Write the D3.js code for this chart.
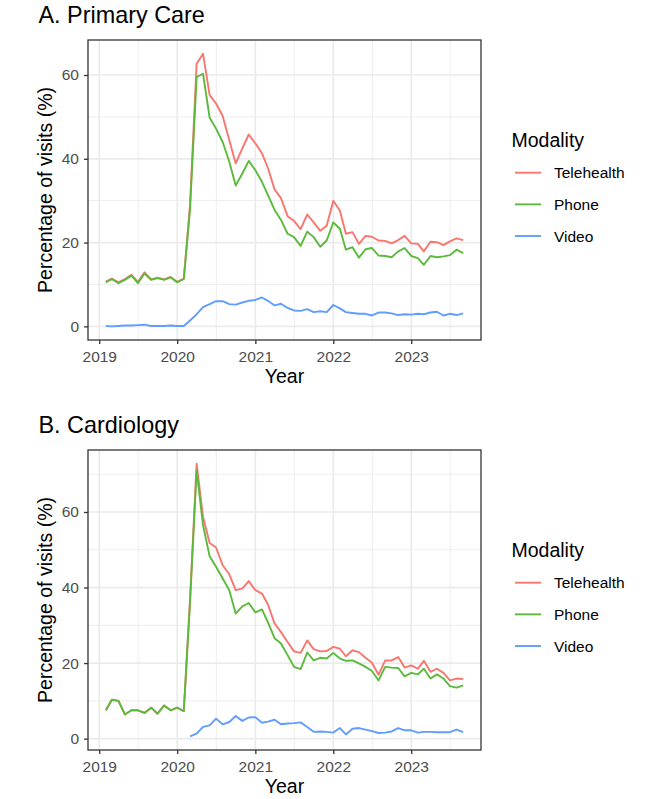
<!DOCTYPE html>
<html>
<head>
<meta charset="utf-8">
<script src="https://cdn.jsdelivr.net/npm/d3@7"></script>
<style>
  body { margin: 0; background: #ffffff; }
  svg { display: block; font-family: "Liberation Sans", Arial, Helvetica, sans-serif; }
</style>
</head>
<body>
<svg id="chart" width="666" height="799"></svg>
<script>
// ---------------- DATA ----------------
const months = [
  "2019-02","2019-03","2019-04","2019-05","2019-06","2019-07","2019-08","2019-09","2019-10","2019-11","2019-12",
  "2020-01","2020-02","2020-03","2020-04","2020-05","2020-06","2020-07","2020-08","2020-09","2020-10","2020-11","2020-12",
  "2021-01","2021-02","2021-03","2021-04","2021-05","2021-06","2021-07","2021-08","2021-09","2021-10","2021-11","2021-12",
  "2022-01","2022-02","2022-03","2022-04","2022-05","2022-06","2022-07","2022-08","2022-09","2022-10","2022-11","2022-12",
  "2023-01","2023-02","2023-03","2023-04","2023-05","2023-06","2023-07","2023-08","2023-09"
];

const seriesNames  = ["Telehealth", "Phone", "Video"];
const seriesColors = ["#F8766D", "#5BBA3C", "#619CFF"];

const panelTitles = ["A. Primary Care", "B. Cardiology"];
const xTickLabels = ["2019", "2020", "2021", "2022", "2023"];
const yTickValues = [0, 20, 40, 60];
const xAxisTitle = "Year";
const yAxisTitle = "Percentage of visits (%)";
const legendTitle = "Modality";

// Primary care
const pcTelehealth = [
  10.7, 11.4, 10.5, 11.3, 12.3, 10.6, 12.9, 11.2, 11.6, 11.2, 11.8,
  10.6, 11.4, 29.0, 62.7, 65.1, 55.2, 53.2, 50.2, 44.4, 38.9, 42.5, 45.8,
  43.7, 41.3, 37.8, 32.7, 30.6, 26.3, 25.2, 23.2, 26.7, 24.8, 22.8, 24.0,
  30.0, 27.6, 22.1, 22.5, 19.7, 21.6, 21.4, 20.5, 20.4, 19.8, 20.6, 21.6,
  19.8, 19.7, 17.9, 20.2, 20.1, 19.4, 20.3, 21.0, 20.6
];
const pcPhone = [
  10.5, 11.3, 10.3, 11.1, 12.1, 10.3, 12.6, 11.1, 11.5, 11.1, 11.7,
  10.5, 11.3, 27.8, 59.5, 60.3, 49.8, 47.2, 44.0, 39.3, 33.6, 36.5, 39.5,
  37.3, 34.5, 31.3, 27.8, 25.4, 22.1, 21.3, 19.2, 22.6, 21.3, 19.0, 20.5,
  24.8, 23.3, 18.3, 18.9, 16.4, 18.4, 18.7, 16.9, 16.8, 16.5, 17.9, 18.7,
  16.8, 16.3, 14.7, 16.8, 16.5, 16.7, 17.0, 18.3, 17.5
];
const pcVideo = [
  0.1, 0.0, 0.1, 0.2, 0.2, 0.3, 0.4, 0.1, 0.1, 0.1, 0.2,
  0.1, 0.1, 1.4, 2.9, 4.6, 5.3, 6.0, 6.0, 5.3, 5.2, 5.7, 6.1,
  6.3, 6.9, 6.1, 5.0, 5.4, 4.4, 3.8, 3.7, 4.1, 3.4, 3.6, 3.4,
  5.1, 4.3, 3.4, 3.2, 3.0, 3.0, 2.6, 3.3, 3.3, 3.1, 2.7, 2.9,
  2.8, 3.0, 2.9, 3.3, 3.5, 2.6, 3.0, 2.7, 3.1
];

// Cardiology
const cardTelehealth = [
  7.5, 10.3, 10.0, 6.4, 7.5, 7.5, 6.8, 8.2, 6.6, 8.8, 7.5,
  8.2, 7.3, 36.6, 72.8, 58.7, 51.8, 50.6, 45.9, 43.5, 39.3, 39.7, 41.7,
  39.3, 38.4, 35.5, 30.5, 28.2, 25.6, 23.1, 22.7, 26.0, 23.7, 23.1, 23.2,
  24.3, 23.8, 21.8, 23.4, 22.9, 21.4, 20.1, 16.9, 20.7, 20.7, 21.6, 18.8,
  19.4, 18.5, 20.6, 17.7, 18.5, 17.4, 15.4, 15.9, 15.8
];
const cardPhone = [
  7.5, 10.3, 10.0, 6.4, 7.5, 7.5, 6.8, 8.2, 6.6, 8.8, 7.5,
  8.2, 7.3, 36.0, 71.0, 56.5, 48.3, 45.5, 42.4, 39.3, 33.1, 35.0, 35.9,
  33.4, 34.2, 30.8, 26.6, 25.2, 22.1, 19.0, 18.4, 22.8, 20.7, 21.4, 21.2,
  22.7, 21.2, 20.6, 20.7, 19.9, 19.0, 17.9, 15.4, 19.0, 18.8, 18.7, 16.5,
  17.4, 17.0, 18.5, 15.9, 17.0, 15.9, 13.9, 13.5, 14.1
];
const cardVideo = [
  null, null, null, null, null, null, null, null, null, null, null,
  null, null, 0.6, 1.3, 3.1, 3.5, 5.3, 3.8, 4.4, 6.0, 4.7, 5.6,
  5.7, 4.2, 4.5, 5.0, 3.8, 4.0, 4.1, 4.3, 3.1, 1.8, 1.9, 1.8,
  1.6, 2.8, 1.1, 2.6, 2.8, 2.4, 2.0, 1.5, 1.6, 1.9, 2.8, 2.2,
  2.2, 1.6, 1.8, 1.8, 1.7, 1.7, 1.7, 2.4, 1.7
];

// ---------------- DRAWING ----------------
const svg = d3.select("#chart");
const parseMonth = d3.utcParse("%Y-%m");
const dates = months.map(parseMonth);
const yearDates = xTickLabels.map(y => d3.utcParse("%Y")(y));

const panelLeft = 88, panelRight = 481, panelTopRel = 40, panelBottomRel = 340;
const tickCol = "#4D4D4D", borderCol = "#333333", gridCol = "#EBEBEB";

function expand(lo, hi, f) { const r = hi - lo; return [lo - r * f, hi + r * f]; }

function drawPanel(offsetY, title, seriesValues) {
  const g = svg.append("g");

  const [t0, t1] = d3.extent(dates, d => +d);
  const [xd0, xd1] = expand(t0, t1, 0.05);
  const x = d3.scaleUtc().domain([new Date(xd0), new Date(xd1)]).range([panelLeft, panelRight]);

  const allVals = seriesValues.flat().filter(v => v != null);
  const y = d3.scaleLinear()
    .domain(expand(d3.min(allVals), d3.max(allVals), 0.05))
    .range([offsetY + panelBottomRel, offsetY + panelTopRel]);

  const top = offsetY + panelTopRel, bottom = offsetY + panelBottomRel;

  // minor grid
  const yMinor = d3.range(10, 100, 20).filter(v => v > y.domain()[0] && v < y.domain()[1]);
  const xMinor = [];
  for (let i = 0; i < yearDates.length; i++) {
    const a = +yearDates[i];
    const b = +d3.utcYear.offset(yearDates[i], 1);
    const mid = new Date((a + b) / 2);
    if (mid > x.domain()[0] && mid < x.domain()[1]) xMinor.push(mid);
  }
  g.selectAll(".ymin").data(yMinor).join("line")
    .attr("x1", panelLeft).attr("x2", panelRight)
    .attr("y1", d => y(d)).attr("y2", d => y(d))
    .attr("stroke", gridCol).attr("stroke-width", 0.9);
  g.selectAll(".xmin").data(xMinor).join("line")
    .attr("y1", top).attr("y2", bottom)
    .attr("x1", d => x(d)).attr("x2", d => x(d))
    .attr("stroke", gridCol).attr("stroke-width", 0.9);

  // major grid
  g.selectAll(".ymaj").data(yTickValues.filter(v => v <= y.domain()[1])).join("line")
    .attr("x1", panelLeft).attr("x2", panelRight)
    .attr("y1", d => y(d)).attr("y2", d => y(d))
    .attr("stroke", gridCol).attr("stroke-width", 1.7);
  g.selectAll(".xmaj").data(yearDates).join("line")
    .attr("y1", top).attr("y2", bottom)
    .attr("x1", d => x(d)).attr("x2", d => x(d))
    .attr("stroke", gridCol).attr("stroke-width", 1.7);

  // lines
  const line = d3.line()
    .defined(d => d.v != null)
    .x(d => x(d.t)).y(d => y(d.v));
  seriesValues.forEach((vals, i) => {
    const pts = vals.map((v, j) => ({ t: dates[j], v }));
    g.append("path").attr("d", line(pts))
      .attr("fill", "none").attr("stroke", seriesColors[i])
      .attr("stroke-width", 1.9).attr("stroke-linejoin", "round");
  });

  // border
  g.append("rect").attr("x", panelLeft).attr("y", top)
    .attr("width", panelRight - panelLeft).attr("height", bottom - top)
    .attr("fill", "none").attr("stroke", borderCol).attr("stroke-width", 1.3);

  // axes
  const yAxis = d3.axisLeft(y).tickValues(yTickValues.filter(v => v <= y.domain()[1]))
    .tickSize(4).tickPadding(5).tickFormat(d3.format("d"));
  const ya = g.append("g").attr("transform", `translate(${panelLeft},0)`).call(yAxis);
  ya.select(".domain").remove();
  ya.selectAll(".tick line").attr("stroke", borderCol).attr("stroke-width", 1.3);
  ya.selectAll(".tick text").attr("fill", tickCol).style("font-size", "15.5px")
    .style("font-family", "'Liberation Sans', Arial, sans-serif");

  const xAxis = d3.axisBottom(x).tickValues(yearDates).tickSize(4).tickPadding(6.5)
    .tickFormat((d, i) => xTickLabels[i]);
  const xa = g.append("g").attr("transform", `translate(0,${bottom})`).call(xAxis);
  xa.select(".domain").remove();
  xa.selectAll(".tick line").attr("stroke", borderCol).attr("stroke-width", 1.3);
  xa.selectAll(".tick text").attr("fill", tickCol).style("font-size", "15.5px")
    .style("font-family", "'Liberation Sans', Arial, sans-serif");

  // titles
  g.append("text").attr("x", (panelLeft + panelRight) / 2).attr("y", offsetY + 383)
    .attr("text-anchor", "middle").style("font-size", "19.5px").attr("fill", "#000")
    .text(xAxisTitle);
  g.append("text")
    .attr("transform", `translate(52,${(top + bottom) / 2}) rotate(-90)`)
    .attr("text-anchor", "middle").style("font-size", "19.5px").attr("fill", "#000")
    .text(yAxisTitle);
  g.append("text").attr("x", 38.5).attr("y", offsetY + 23)
    .style("font-size", "23.4px").attr("fill", "#000").text(title);

  // legend
  const lg = g.append("g");
  lg.append("text").attr("x", 511.5).attr("y", offsetY + 147)
    .style("font-size", "19.5px").attr("fill", "#000").text(legendTitle);
  seriesNames.forEach((name, i) => {
    const ly = offsetY + 172.7 + i * 31.65;
    lg.append("line").attr("x1", 515).attr("x2", 541).attr("y1", ly).attr("y2", ly)
      .attr("stroke", seriesColors[i]).attr("stroke-width", 1.9);
    lg.append("text").attr("x", 554).attr("y", ly).attr("dy", "0.36em")
      .style("font-size", "15.5px").attr("fill", "#000").text(name);
  });
}

drawPanel(0, panelTitles[0], [pcTelehealth, pcPhone, pcVideo]);
drawPanel(410, panelTitles[1], [cardTelehealth, cardPhone, cardVideo]);
</script>
</body>
</html>
